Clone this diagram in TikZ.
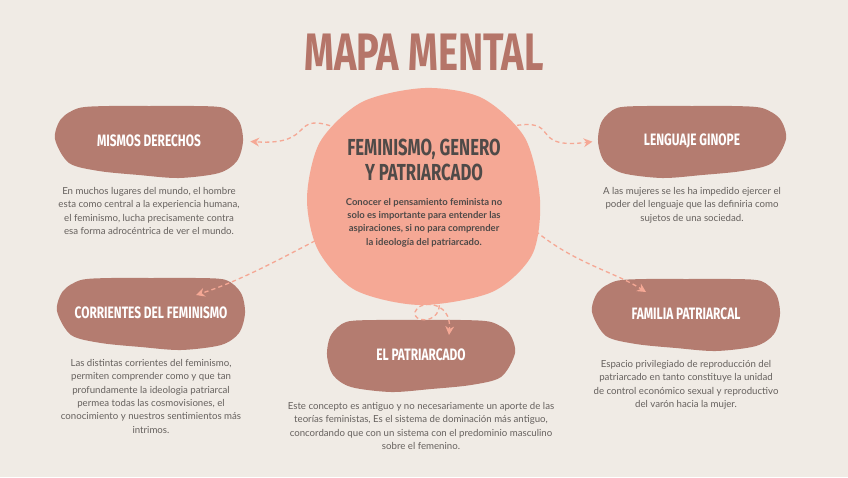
\documentclass[tikz,border=0pt]{standalone}
\usepackage{fontspec}
\setmainfont{Lato}
\newfontfamily\headfont[FakeStretch=0.72]{Fira Sans}
\usetikzlibrary{arrows.meta,positioning,backgrounds}
\definecolor{mmbg}{HTML}{F0EBE5}
\definecolor{mmbrown}{HTML}{B47C70}
\definecolor{mmsalmon}{HTML}{F5A895}
\definecolor{mmtitle}{HTML}{B57569}
\definecolor{mmdark}{HTML}{4F4A48}
\definecolor{mmgray}{HTML}{66615E}

\begin{document}
\begin{tikzpicture}[
    x=0.02cm, y=-0.02cm,
    node distance=0.18cm,
    blob/.style={minimum width=3.76cm, minimum height=1.46cm, text=white, font=\headfont\bfseries\fontsize{9.4}{10}\selectfont},
    info/.style={align=center, text=mmgray, inner sep=0pt, font=\fontsize{5.5}{7.6}\selectfont},
    link/.style={draw=mmsalmon, line width=0.75pt, dash pattern=on 2.4pt off 1.8pt, -{Stealth[length=5pt,width=5pt]}}
  ]
    \useasboundingbox (0,0) rectangle (848,477);

    % Title
    \node[text=mmtitle, font=\headfont\bfseries\fontsize{30}{30}\selectfont] (titulo) at (424,52) {MAPA MENTAL};

    % Centre
    \node[circle, minimum size=4.4cm] (nucleo) at (424,196) {};
    \node[align=center, text=mmdark, font=\headfont\bfseries\fontsize{13.2}{13.8}\selectfont] (centro) at (424,160) {FEMINISMO, GENERO\\Y PATRIARCADO};
    \node[info, text=mmdark, font=\bfseries\fontsize{5.4}{7.6}\selectfont, below=0.22cm of centro] (centrotxt) {Conocer el pensamiento feminista no\\solo es importante para entender las\\aspiraciones, si no para comprender\\la ideología del patriarcado.};

    % Top row
    \node[blob] (mismos) at (149,141) {MISMOS DERECHOS};
    \node[info, below=of mismos] (mismostxt) {En muchos lugares del mundo, el hombre\\esta como central a la experiencia humana,\\el feminismo, lucha precisamente contra\\esa forma adrocéntrica de ver el mundo.};
    \node[blob] (lenguaje) at (692,141) {LENGUAJE GINOPE};
    \node[info, below=of lenguaje] (lenguajetxt) {A las mujeres se les ha impedido ejercer el\\poder del lenguaje que las definiria como\\sujetos de una sociedad.};

    % Bottom row
    \node[blob] (corrientes) at (151,313) {CORRIENTES DEL FEMINISMO};
    \node[info, below=of corrientes] (corrientestxt) {Las distintas corrientes del feminismo,\\permiten comprender como y que tan\\profundamente la ideologia patriarcal\\permea todas las cosmovisiones, el\\conocimiento y nuestros sentimientos más\\intrimos.};
    \node[blob] (patriarcado) at (421,355) {EL PATRIARCADO};
    \node[info, below=0.2cm of patriarcado] (patriarcadotxt) {Este concepto es antiguo y no necesariamente un aporte de las\\teorías feministas, Es el sistema de dominación más antiguo,\\concordando que con un sistema con el predominio masculino\\sobre el femenino.};
    \node[blob] (familia) at (686,314) {FAMILIA PATRIARCAL};
    \node[info, below=of familia] (familiatxt) {Espacio privilegiado de reproducción del\\patriarcado en tanto constituye la unidad\\de control económico sexual y reproductivo\\del varón hacia la mujer.};

    % Shapes behind the text
    \begin{scope}[on background layer]
      \fill[mmbg] (0,0) rectangle (848,477);
      \fill[mmsalmon] plot[smooth cycle] coordinates {(425,88) (482,98) (525,138) (540,200) (532,255) (492,292) (420,305) (355,290) (318,250) (307,198) (320,142) (362,102)};
      \foreach \b/\s in {mismos/1, lenguaje/-1, corrientes/1, patriarcado/-1, familia/1}
        \fill[mmbrown, shift={(\b.center)}, xscale=\s] plot[smooth cycle] coordinates {(-94,-2) (-88,-22) (-70,-33) (-40,-35) (0,-35) (45,-35) (75,-33) (90,-20) (94,0) (88,20) (70,32) (30,37) (-10,34) (-50,30) (-80,22)};
    \end{scope}

    % Links
    \coordinate (rizo) at (415,312);
    \draw[link, shorten >=4pt] (nucleo.142) .. controls (288,110) and (318,146) .. (mismos.east);
    \draw[link, shorten >=3pt] (nucleo.39) .. controls (564,116) and (526,150) .. (lenguaje.west);
    \draw[link] (nucleo.202) .. controls (282,258) and (240,281) .. ([shift={(45,-18)}]corrientes.center);
    \draw[link] (nucleo.-16) .. controls (572,263) and (611,270) .. ([shift={(-40,-22)}]familia.center);
    \draw[link] (nucleo.-82) .. controls (438,325) and (412,322) .. (rizo) .. controls (418,300) and (452,300) .. ([shift={(28,-20)}]patriarcado.center);
  \end{tikzpicture}
\end{document}
